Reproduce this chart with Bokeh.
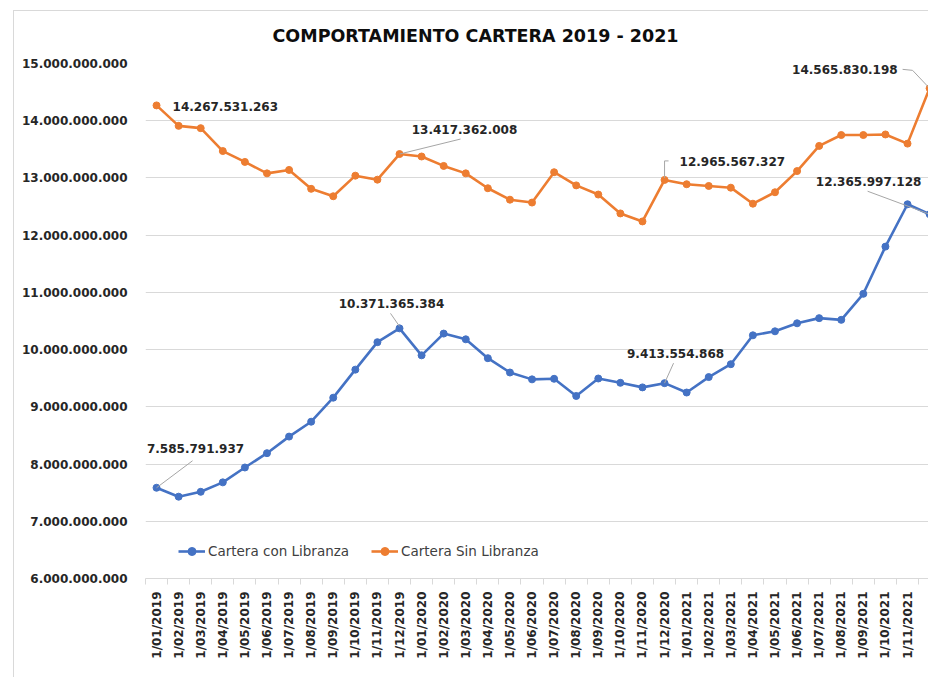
import math
from bokeh.plotting import figure
from bokeh.models import FixedTicker
from bokeh.embed import file_html
from bokeh.resources import INLINE
from bokeh.core.properties import value

# ---------------- data ----------------
months = [f"1/{m:02d}/{y}" for y in (2019, 2020, 2021) for m in range(1, 13)]

con_libranza = [
    7585791937, 7430000000, 7515000000, 7680000000, 7940000000, 8190000000,
    8480000000, 8740000000, 9160000000, 9650000000, 10130000000, 10371365384,
    9900000000, 10280000000, 10180000000, 9850000000, 9600000000, 9480000000,
    9490000000, 9190000000, 9495000000, 9420000000, 9340000000, 9413554868,
    9250000000, 9520000000, 9745000000, 10250000000, 10320000000, 10460000000,
    10550000000, 10520000000, 10975000000, 11800000000, 12540000000, 12365997128,
]

sin_libranza = [
    14267531263, 13910000000, 13870000000, 13470000000, 13280000000, 13080000000,
    13140000000, 12810000000, 12680000000, 13040000000, 12970000000, 13417362008,
    13375000000, 13210000000, 13080000000, 12820000000, 12620000000, 12570000000,
    13100000000, 12870000000, 12710000000, 12380000000, 12240000000, 12965567327,
    12890000000, 12860000000, 12830000000, 12550000000, 12750000000, 13120000000,
    13560000000, 13750000000, 13750000000, 13760000000, 13600000000, 14565830198,
]

y_ticks = [6e9, 7e9, 8e9, 9e9, 10e9, 11e9, 12e9, 13e9, 14e9, 15e9]


def fmt(v):
    return f"{int(round(v)):,}".replace(",", ".")


BLUE = "#4472C4"
ORANGE = "#ED7D31"
GRID = "#d9d9d9"
TXT = "#262626"
FONT = "DejaVu Sans"

W, H = 928, 677
ML, MT, MB, MR = 145, 63, 99, 0
X0, X1 = -0.5, 34.95
Y0, Y1 = 6e9, 15e9

p = figure(width=W, height=H, output_backend="svg", toolbar_location=None,
           x_range=(X0, X1), y_range=(Y0, Y1),
           min_border_left=ML, min_border_top=MT, min_border_bottom=MB,
           min_border_right=MR)
p.border_fill_alpha = 0
p.background_fill_color = "white"
p.outline_line_color = None
p.styles = {"background-color": "white",
            "box-shadow": "inset 13px 10px 0 white, inset 14px 11px 0 #d9d9d9"}

fw = W - ML - MR
fh = H - MT - MB
ppx = fw / (X1 - X0)          # pixels per category
ppy = fh / (Y1 - Y0)          # pixels per unit


def dx(px):
    return px / ppx


def dy(px):  # screen px (down positive) -> data offset
    return -px / ppy


# title
p.title.text = "COMPORTAMIENTO CARTERA 2019 - 2021"
p.title.text_font = FONT
p.title.text_font_size = "17.5px"
p.title.text_font_style = "bold"
p.title.text_color = "#0d0d0d"
p.title.align = "left"
p.title.offset = 127
p.title.standoff = 36

# axes
p.yaxis.ticker = FixedTicker(ticks=y_ticks)
p.yaxis.major_label_overrides = {t: fmt(t) for t in y_ticks}
p.yaxis.axis_line_color = None
p.yaxis.major_tick_line_color = None
p.yaxis.minor_tick_line_color = None
p.yaxis.major_tick_out = 0
p.yaxis.major_tick_in = 0
p.yaxis.major_label_standoff = 18
p.yaxis.major_label_text_font = FONT
p.yaxis.major_label_text_font_size = "12px"
p.yaxis.major_label_text_font_style = "bold"
p.yaxis.major_label_text_color = TXT

xt = list(range(len(months)))
p.xaxis.ticker = FixedTicker(ticks=xt, minor_ticks=[i - 0.5 for i in range(len(months) + 1)])
p.xaxis.major_label_overrides = {i: m for i, m in enumerate(months)}
p.xaxis.major_label_orientation = math.pi / 2
p.xaxis.axis_line_color = GRID
p.xaxis.major_tick_line_color = None
p.xaxis.major_tick_out = 0
p.xaxis.major_tick_in = 0
p.xaxis.minor_tick_line_color = GRID
p.xaxis.minor_tick_out = 6
p.xaxis.minor_tick_in = 0
p.xaxis.major_label_standoff = 7
p.xaxis.major_label_text_font = FONT
p.xaxis.major_label_text_font_size = "12px"
p.xaxis.major_label_text_font_style = "bold"
p.xaxis.major_label_text_color = TXT

p.xgrid.grid_line_color = None
p.ygrid.grid_line_color = GRID
p.ygrid.grid_line_width = 1

# series
p.line(xt, con_libranza, line_color=BLUE, line_width=2.6, legend_label="Cartera con Libranza")
p.scatter(xt, con_libranza, size=7, fill_color=BLUE, line_color=BLUE, legend_label="Cartera con Libranza")
p.line(xt, sin_libranza, line_color=ORANGE, line_width=2.6, legend_label="Cartera Sin Libranza")
p.scatter(xt, sin_libranza, size=7, fill_color=ORANGE, line_color=ORANGE, legend_label="Cartera Sin Libranza")

# data labels (offsets in screen pixels from the point)
label_specs = [
    # series, idx, x_off, y_off, align, leader path (px offsets)
    (sin_libranza, 0, 16, 1, "left", []),
    (sin_libranza, 11, 65, -25, "center", [(0, 0), (61, -15)]),
    (sin_libranza, 23, 15, -18, "left", [(0, -2), (0, -19), (4, -19)]),
    (sin_libranza, 35, -32, -19, "right", [(-27, -19), (-17, -18), (0, 0)]),
    (con_libranza, 0, 39, -39, "center", [(0, 0), (36, -27)]),
    (con_libranza, 11, -8, -25, "center", [(-9, -15), (0, -2)]),
    (con_libranza, 23, 11, -30, "center", [(9, -20), (0, 0)]),
    (con_libranza, 35, -61, -33, "center", [(-62, -23), (0, 0)]),
]

for ser, i, xo, yo, al, path in label_specs:
    if path:
        p.line([i + dx(a) for a, b in path], [ser[i] + dy(b) for a, b in path],
               line_color="#a6a6a6", line_width=1)

for al in ("left", "center", "right"):
    specs = [s for s in label_specs if s[4] == al]
    p.text(x=[s[1] for s in specs], y=[s[0][s[1]] for s in specs],
           text=[fmt(s[0][s[1]]) for s in specs],
           x_offset=[s[2] for s in specs], y_offset=[s[3] for s in specs],
           text_align=al, text_baseline="middle",
           text_font=value(FONT), text_font_size="12px", text_font_style="bold",
           text_color=TXT)

# legend
lg = p.legend[0]
lg.orientation = "horizontal"
lg.location = (33, 17)
lg.border_line_color = None
lg.background_fill_alpha = 0
lg.padding = 0
lg.margin = 0
lg.spacing = 22
lg.glyph_width = 27
lg.glyph_height = 20
lg.label_standoff = 3
lg.label_text_font = FONT
lg.label_text_font_size = "13.5px"
lg.label_text_color = "#404040"

open("out.html", "w").write(file_html(p, INLINE))
